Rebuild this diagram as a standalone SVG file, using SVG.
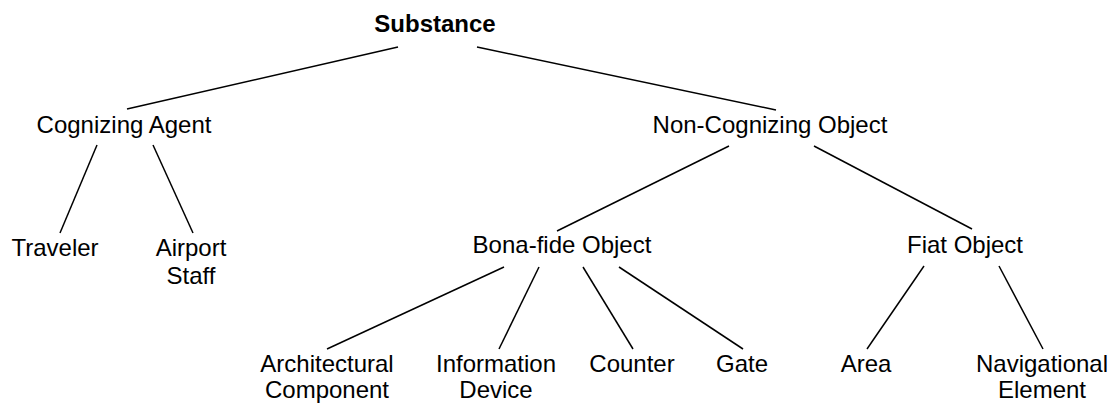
<svg xmlns="http://www.w3.org/2000/svg" width="1117" height="403" viewBox="0 0 1117 403">
<style>
text{font-family:"Liberation Sans",Arial,sans-serif;font-size:24px;fill:#000;text-anchor:middle}
.b{font-weight:bold}
line{stroke:#000;stroke-width:1.5}
</style>
<rect width="1117" height="403" fill="#fff"/>
<g id="connectors">
<line x1="398" y1="47" x2="127" y2="109"/>
<line x1="477" y1="47" x2="776" y2="110"/>
<line x1="97" y1="145" x2="60" y2="233"/>
<line x1="153" y1="145" x2="193" y2="233"/>
<line x1="729" y1="146" x2="557" y2="231"/>
<line x1="814" y1="146" x2="972" y2="229"/>
<line x1="504" y1="267" x2="327" y2="349"/>
<line x1="539" y1="267" x2="499" y2="349"/>
<line x1="583" y1="267" x2="633" y2="349"/>
<line x1="619" y1="267" x2="743" y2="349"/>
<line x1="924" y1="266" x2="867" y2="349"/>
<line x1="999" y1="266" x2="1043" y2="349"/>
</g>
<g id="substance"><text class="b" x="435" y="32">Substance</text></g>
<g id="cognizing-agent"><text x="124" y="133">Cognizing Agent</text></g>
<g id="non-cognizing-object"><text x="770" y="133">Non-Cognizing Object</text></g>
<g id="traveler"><text x="55" y="256">Traveler</text></g>
<g id="airport-staff"><text x="191" y="256">Airport</text><text x="191" y="284">Staff</text></g>
<g id="bona-fide-object"><text x="562" y="253">Bona-fide Object</text></g>
<g id="fiat-object"><text x="965" y="253">Fiat Object</text></g>
<g id="architectural-component"><text x="327" y="372">Architectural</text><text x="327" y="398">Component</text></g>
<g id="information-device"><text x="496" y="372">Information</text><text x="496" y="398">Device</text></g>
<g id="counter"><text x="632" y="372">Counter</text></g>
<g id="gate"><text x="742" y="372">Gate</text></g>
<g id="area"><text x="866" y="372">Area</text></g>
<g id="navigational-element"><text x="1042" y="372">Navigational</text><text x="1042" y="398">Element</text></g>
</svg>
